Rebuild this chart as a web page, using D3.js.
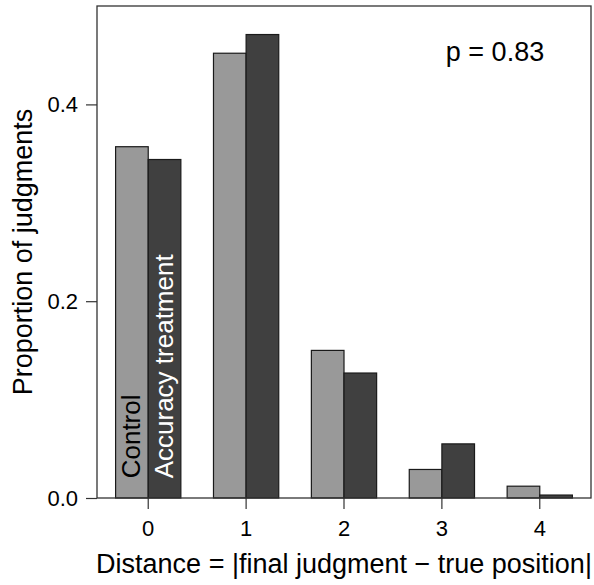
<!DOCTYPE html>
<html>
<head>
<meta charset="utf-8">
<script src="https://cdn.jsdelivr.net/npm/d3@7"></script>
<style>
  body { margin: 0; background: #fff; }
  text { font-family: "Liberation Sans", Arial, sans-serif; }
</style>
</head>
<body>
<svg width="594" height="585"></svg>
<script>
const distances = ["0", "1", "2", "3", "4"];
const groups = ["Control", "Accuracy treatment"];
const control = [0.357, 0.452, 0.150, 0.029, 0.012];
const accuracy = [0.344, 0.471, 0.127, 0.055, 0.003];
const yTicks = [0, 0.2, 0.4];
const pLabel = "p = 0.83";

const data = distances.map((d, i) => ({
  dist: d,
  values: [
    { key: groups[0], value: control[i] },
    { key: groups[1], value: accuracy[i] }
  ]
}));

const svg = d3.select("svg");
const box = { left: 97, right: 591, top: 6, bottom: 498 };

const x = d3
  .scaleBand()
  .domain(distances)
  .range([box.left, box.right])
  .paddingInner(1 / 3)
  .paddingOuter(0.19);

const xInner = d3.scaleBand().domain(groups).range([0, x.bandwidth()]);

const y = d3.scaleLinear().domain([0, 0.5]).range([box.bottom, box.top]);

const color = d3.scaleOrdinal().domain(groups).range(["#999999", "#404040"]);

// bars
const g = svg
  .selectAll(".group")
  .data(data)
  .enter()
  .append("g")
  .attr("class", "group")
  .attr("transform", (d) => `translate(${x(d.dist)},0)`);

g.selectAll("rect")
  .data((d) => d.values)
  .enter()
  .append("rect")
  .attr("x", (d) => xInner(d.key))
  .attr("y", (d) => y(d.value))
  .attr("width", xInner.bandwidth())
  .attr("height", (d) => y(0) - y(d.value))
  .attr("fill", (d) => color(d.key))
  .attr("stroke", "#1a1a1a")
  .attr("stroke-width", 1.2);

// box
svg
  .append("rect")
  .attr("x", box.left)
  .attr("y", box.top)
  .attr("width", box.right - box.left)
  .attr("height", box.bottom - box.top)
  .attr("fill", "none")
  .attr("stroke", "#333")
  .attr("stroke-width", 1.3);

// y axis
const yAxis = svg
  .append("g")
  .attr("transform", `translate(${box.left},0)`)
  .call(
    d3.axisLeft(y).tickValues(yTicks).tickFormat(d3.format(".1f")).tickSize(11).tickPadding(8)
  );
yAxis.select(".domain").remove();
yAxis.selectAll("line").attr("stroke", "#333").attr("stroke-width", 1.2);
yAxis.selectAll("text").attr("font-size", 22).attr("fill", "#000");

// x axis
const xAxis = svg
  .append("g")
  .attr("transform", `translate(0,${box.bottom})`)
  .call(d3.axisBottom(x).tickSize(11).tickPadding(11));
xAxis.select(".domain").remove();
xAxis.selectAll("line").attr("stroke", "#333").attr("stroke-width", 1.2);
xAxis.selectAll("text").attr("font-size", 22).attr("fill", "#000");

// axis titles
svg
  .append("text")
  .attr("x", (box.left + box.right) / 2)
  .attr("y", 573)
  .attr("text-anchor", "middle")
  .attr("font-size", 27)
  .text("Distance = |final judgment \u2212 true position|");

svg
  .append("text")
  .attr("transform", `translate(32,${(box.top + box.bottom) / 2}) rotate(-90)`)
  .attr("text-anchor", "middle")
  .attr("font-size", 27)
  .text("Proportion of judgments");

// p value
svg
  .append("text")
  .attr("x", 495)
  .attr("y", 61)
  .attr("text-anchor", "middle")
  .attr("font-size", 27)
  .text(pLabel);

// group labels inside first pair of bars
groups.forEach((k, i) => {
  const cx = x(distances[0]) + xInner(k) + xInner.bandwidth() / 2;
  svg
    .append("text")
    .attr("transform", `translate(${cx + 8},${y(0.02)}) rotate(-90)`)
    .attr("text-anchor", "start")
    .attr("font-size", 26)
    .attr("fill", i === 0 ? "#000" : "#fff")
    .text(k);
});
</script>
</body>
</html>
